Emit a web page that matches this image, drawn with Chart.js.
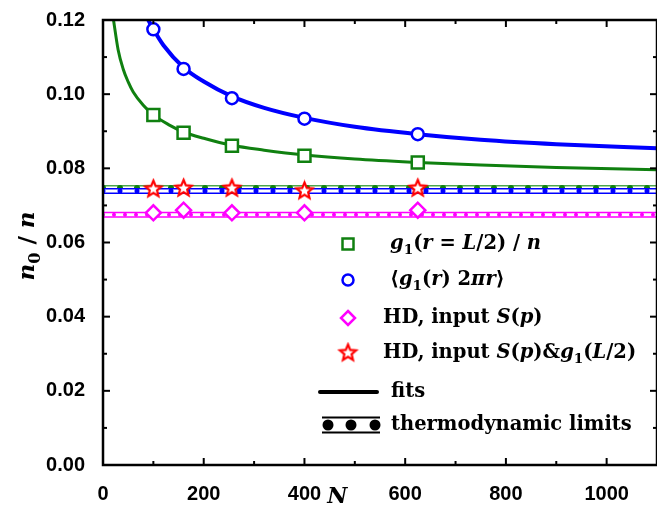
<!DOCTYPE html>
<html>
<head>
<meta charset="utf-8">
<script src="https://cdn.jsdelivr.net/npm/chart.js@4/dist/chart.umd.min.js"></script>
<style>
  html, body { margin: 0; padding: 0; background: #fff; }
</style>
</head>
<body>
<canvas id="chart" width="657" height="509"></canvas>
<script>
// system sizes N
const sizes = [100, 160, 256, 400, 625];
// g1(r = L/2) / n
const g1Half = [0.0944, 0.0896, 0.0861, 0.0834, 0.0816];
// <g1(r) 2 pi r>
const g1Avg = [0.1175, 0.1068, 0.0989, 0.0934, 0.0892];
// HD, input S(p)
const hdS = [0.0680, 0.0687, 0.0680, 0.0680, 0.0687];
// HD, input S(p) & g1(L/2)
const hdSg = [0.0744, 0.0746, 0.0746, 0.0739, 0.0746];

// fit curves
const fitHalfN = [20, 30, 40, 50, 60, 80, 100, 130, 160, 200, 256, 320, 400, 500, 625, 750, 900, 1100];
const fitHalf = [0.1208, 0.1120, 0.1068, 0.1033, 0.1006, 0.0970, 0.0944, 0.0918, 0.0898, 0.0881, 0.0862, 0.0849, 0.0836, 0.0825, 0.0816, 0.0809, 0.0802, 0.0796];
const fitAvgN = [85, 90, 100, 120, 160, 200, 256, 320, 400, 500, 625, 750, 900, 1100];
const fitAvg = [0.1215, 0.1200, 0.1175, 0.1132, 0.1072, 0.1034, 0.0994, 0.0963, 0.0936, 0.0912, 0.0892, 0.0877, 0.0865, 0.0854];

// thermodynamic limits
const limitN = [0, 1100];
const limitHalf = 0.0747;
const limitAvg = 0.0739;
const limitHd = 0.0675;

const xTicks = [0, 200, 400, 600, 800, 1000];
const yTicks = [0, 0.02, 0.04, 0.06, 0.08, 0.10, 0.12];

const GREEN = '#108010';
const BLUE = '#0000ff';
const MAGENTA = '#ff00ff';
const RED = '#ff0000';
const SERIF = '"DejaVu Serif", serif';
const LEGEND_SIZE = 19.5;

const pts = (xs, ys) => xs.map((x, i) => ({ x, y: ys[i] }));
const flat = (v) => limitN.map(x => ({ x, y: v }));

function makeStar(r, color) {
    const c = document.createElement('canvas');
    c.width = c.height = Math.ceil(r * 2 + 6);
    const g = c.getContext('2d');
    const cx = c.width / 2, cy = c.height / 2;
    g.beginPath();
    for (let i = 0; i < 10; i++) {
        const rad = i % 2 === 0 ? r : r * 0.45;
        const a = -Math.PI / 2 + i * Math.PI / 5;
        g.lineTo(cx + rad * Math.cos(a), cy + rad * Math.sin(a));
    }
    g.closePath();
    g.fillStyle = '#fff';
    g.fill();
    g.lineWidth = 2.2;
    g.strokeStyle = color;
    g.lineJoin = 'miter';
    g.stroke();
    return c;
}
const star = makeStar(8.5, RED);

function band(value, color, dotColor, dotSize, dotGap) {
    return [
        { data: flat(value), borderColor: color, borderWidth: 6, showLine: true, pointRadius: 0 },
        { data: flat(value), borderColor: '#fff', borderWidth: 3, showLine: true, pointRadius: 0 },
        { data: flat(value), borderColor: dotColor, borderWidth: dotSize, borderDash: [0, dotGap],
          borderCapStyle: 'round', showLine: true, pointRadius: 0 }
    ];
}

// listed back to front
const layers = [
    ...band(limitHalf, '#4ca64c', GREEN, 6, 17),
    ...band(limitAvg, BLUE, BLUE, 5, 17),
    ...band(limitHd, MAGENTA, MAGENTA, 4, 11),
    { data: pts(fitHalfN, fitHalf), borderColor: GREEN, borderWidth: 3, showLine: true,
      pointRadius: 0, cubicInterpolationMode: 'monotone' },
    { data: pts(fitAvgN, fitAvg), borderColor: BLUE, borderWidth: 4, showLine: true,
      pointRadius: 0, cubicInterpolationMode: 'monotone' },
    { data: pts(sizes, g1Half), pointStyle: 'rect', pointRadius: 8.5, borderWidth: 2.5,
      borderColor: GREEN, backgroundColor: '#fff', showLine: false },
    { data: pts(sizes, g1Avg), pointStyle: 'circle', pointRadius: 6, borderWidth: 2.5,
      borderColor: BLUE, backgroundColor: '#fff', showLine: false },
    { data: pts(sizes, hdS), pointStyle: 'rectRot', pointRadius: 7.5, borderWidth: 2.5,
      borderColor: MAGENTA, backgroundColor: '#fff', showLine: false },
    { data: pts(sizes, hdSg), pointStyle: star, showLine: false }
];
layers.forEach((d, i) => {
    d.order = layers.length - i;
    d.clip = 0;
    d.pointHoverRadius = d.pointRadius;
});

function fontFor(p, size) {
    const s = p.sub ? size * 0.7 : size;
    return (p.it ? 'italic ' : '') + 'bold ' + s + 'px ' + SERIF;
}
function runsWidth(ctx, parts, size) {
    let w = 0;
    for (const p of parts) { ctx.font = fontFor(p, size); w += ctx.measureText(p.t).width; }
    return w;
}
function drawRuns(ctx, x, y, parts, size) {
    for (const p of parts) {
        ctx.font = fontFor(p, size);
        ctx.fillText(p.t, x, y + (p.sub ? size * 0.32 : 0));
        x += ctx.measureText(p.t).width;
    }
    return x;
}
const it = (t) => ({ t, it: true });
const up = (t) => ({ t });
const sub = (t) => ({ t, sub: true });

const legendRows = [
    { mark: 'rect', color: GREEN, y: 244, x: 390,
      text: [it('g'), sub('1'), up('('), it('r'), up(' = '), it('L'), up('/2) / '), it('n')] },
    { mark: 'circle', color: BLUE, y: 280, x: 390,
      text: [up('\u27e8'), it('g'), sub('1'), up('('), it('r'), up(') 2'), it('\u03c0'), it('r'), up('\u27e9')] },
    { mark: 'diamond', color: MAGENTA, y: 318, x: 383,
      text: [up('HD, input '), it('S'), up('('), it('p'), up(')')] },
    { mark: 'star', color: RED, y: 353, x: 383,
      text: [up('HD, input '), it('S'), up('('), it('p'), up(')&'), it('g'), sub('1'), up('('), it('L'), up('/2)')] },
    { mark: 'fit', y: 392, x: 391, text: [up('fits')] },
    { mark: 'limit', y: 425, x: 391, text: [up('thermodynamic limits')] }
];

const framePlugin = {
    id: 'frame',
    afterDatasetsDraw(chart) {
        const { ctx, chartArea: a, scales: { x, y } } = chart;
        ctx.save();
        ctx.strokeStyle = '#000';
        ctx.lineCap = 'butt';
        ctx.lineWidth = 2;
        const seg = (x1, y1, x2, y2) => { ctx.beginPath(); ctx.moveTo(x1, y1); ctx.lineTo(x2, y2); ctx.stroke(); };
        for (let v = 0; v <= 1100; v += 100) {
            const px = x.getPixelForValue(v);
            const len = v % 200 === 0 ? 7 : 4;
            seg(px, a.bottom, px, a.bottom - len);
            seg(px, a.top, px, a.top + len);
        }
        for (let i = 0; i <= 12; i++) {
            const py = y.getPixelForValue(i / 100);
            const len = i % 2 === 0 ? 7 : 4;
            seg(a.left, py, a.left + len, py);
            seg(a.right, py, a.right - len, py);
        }
        ctx.lineWidth = 2.5;
        ctx.strokeRect(a.left, a.top, a.right - a.left, a.bottom - a.top);

        // axis titles
        ctx.fillStyle = '#000';
        ctx.textBaseline = 'middle';
        ctx.textAlign = 'left';
        const yTitle = [it('n'), sub('0'), up(' / '), it('n')];
        ctx.save();
        ctx.translate(28, 246);
        ctx.rotate(-Math.PI / 2);
        drawRuns(ctx, -runsWidth(ctx, yTitle, 23) / 2, 0, yTitle, 23);
        ctx.restore();
        ctx.textAlign = 'center';
        ctx.font = 'italic bold 22px ' + SERIF;
        ctx.fillText('N', x.getPixelForValue(465), 497);
        ctx.textAlign = 'left';

        // legend
        for (const row of legendRows) {
            const mx = 348, my = row.y;
            ctx.lineWidth = 2.5;
            ctx.fillStyle = '#fff';
            ctx.strokeStyle = row.color || '#000';
            if (row.mark === 'rect') {
                ctx.beginPath(); ctx.rect(mx - 5.5, my - 5.5, 11, 11); ctx.fill(); ctx.stroke();
            } else if (row.mark === 'circle') {
                ctx.beginPath(); ctx.arc(mx, my, 5.5, 0, Math.PI * 2); ctx.fill(); ctx.stroke();
            } else if (row.mark === 'diamond') {
                ctx.beginPath(); ctx.moveTo(mx, my - 7); ctx.lineTo(mx + 7, my); ctx.lineTo(mx, my + 7);
                ctx.lineTo(mx - 7, my); ctx.closePath(); ctx.fill(); ctx.stroke();
            } else if (row.mark === 'star') {
                ctx.drawImage(star, mx - star.width / 2, my - star.height / 2);
            } else if (row.mark === 'fit') {
                ctx.strokeStyle = '#000'; ctx.lineWidth = 4; ctx.lineCap = 'round';
                seg(320, my, 377, my);
                ctx.lineCap = 'butt';
            } else if (row.mark === 'limit') {
                ctx.strokeStyle = '#000'; ctx.lineWidth = 2;
                seg(322, my - 7.5, 380, my - 7.5);
                seg(322, my + 7.5, 380, my + 7.5);
                ctx.fillStyle = '#000';
                for (const cx of [328, 351, 375]) {
                    ctx.beginPath(); ctx.arc(cx, my, 5.5, 0, Math.PI * 2); ctx.fill();
                }
            }
            ctx.fillStyle = '#000';
            drawRuns(ctx, row.x, my, row.text, LEGEND_SIZE);
        }
        ctx.restore();
    }
};

const tickFont = { family: '"Liberation Sans", Arial, sans-serif', weight: 'bold', size: 20 };

new Chart(document.getElementById('chart'), {
    type: 'scatter',
    data: { datasets: layers },
    options: {
        responsive: false,
        animation: false,
        devicePixelRatio: 1,
        layout: { autoPadding: false, padding: { top: 20, right: 0, left: 0, bottom: 0 } },
        plugins: { legend: { display: false }, tooltip: { enabled: false } },
        scales: {
            x: {
                type: 'linear',
                min: 0,
                max: 1100,
                afterFit: (s) => { s.height = 44; s.paddingLeft = 0; s.paddingRight = 0; },
                afterBuildTicks: (s) => { s.ticks = xTicks.map(v => ({ value: v })); },
                grid: { display: false },
                border: { display: false },
                ticks: {
                    padding: 9,
                    maxRotation: 0,
                    color: '#000',
                    callback: (v) => String(v),
                    font: tickFont
                }
            },
            y: {
                type: 'linear',
                min: 0,
                max: 0.12,
                afterFit: (s) => { s.width = 103; s.paddingTop = 0; s.paddingBottom = 0; },
                afterBuildTicks: (s) => { s.ticks = yTicks.map(v => ({ value: v })); },
                grid: { display: false },
                border: { display: false },
                ticks: {
                    padding: 10,
                    color: '#000',
                    callback: (v) => Number(v).toFixed(2),
                    font: tickFont
                }
            }
        }
    },
    plugins: [framePlugin]
});
</script>
</body>
</html>
